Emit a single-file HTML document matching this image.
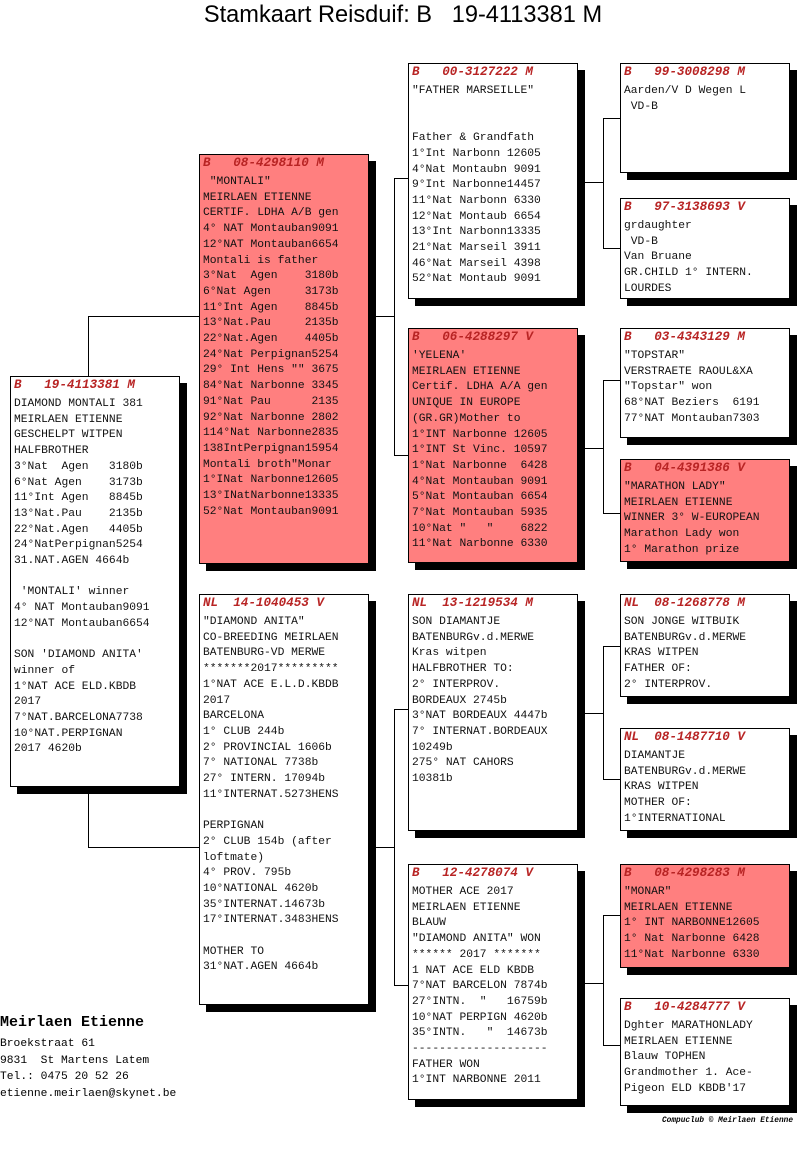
<!DOCTYPE html>
<html><head><meta charset="utf-8"><style>
body{margin:0;background:#fff;width:800px;height:1149px;position:relative;overflow:hidden;font-family:"Liberation Mono",monospace;}
.b{position:absolute;border:1px solid #000;background:#fff;box-shadow:7px 7px 0 #000;box-sizing:border-box;}
.r{background:#ff7f7f;}
.h{position:absolute;left:3px;top:0px;font-weight:bold;font-style:italic;color:#b82424;font-size:12.6px;line-height:16px;white-space:pre;}
.t{position:absolute;left:3px;top:20px;font-size:11.3px;line-height:15.7px;white-space:pre;color:#111;margin:0;font-family:"Liberation Mono",monospace;}
.l{position:absolute;background:#000;}
</style></head><body>
<div style="position:absolute;left:0;width:806px;top:2px;text-align:center;font-family:'Liberation Sans',sans-serif;font-size:23.6px;">Stamkaart Reisduif: B&nbsp;&nbsp;&nbsp;19-4113381 M</div>

<!-- connectors -->
<div class="l" style="left:88px;top:316px;width:1px;height:60px"></div>
<div class="l" style="left:88px;top:316px;width:111px;height:1px"></div>
<div class="l" style="left:88px;top:787px;width:1px;height:61px"></div>
<div class="l" style="left:88px;top:847px;width:111px;height:1px"></div>

<div class="l" style="left:369px;top:316px;width:25px;height:1px"></div>
<div class="l" style="left:394px;top:178px;width:1px;height:278px"></div>
<div class="l" style="left:394px;top:178px;width:14px;height:1px"></div>
<div class="l" style="left:394px;top:455px;width:14px;height:1px"></div>

<div class="l" style="left:369px;top:847px;width:25px;height:1px"></div>
<div class="l" style="left:394px;top:709px;width:1px;height:277px"></div>
<div class="l" style="left:394px;top:709px;width:14px;height:1px"></div>
<div class="l" style="left:394px;top:985px;width:14px;height:1px"></div>

<div class="l" style="left:577px;top:182px;width:26px;height:1px"></div>
<div class="l" style="left:603px;top:118px;width:1px;height:131px"></div>
<div class="l" style="left:603px;top:118px;width:17px;height:1px"></div>
<div class="l" style="left:603px;top:248px;width:17px;height:1px"></div>

<div class="l" style="left:577px;top:448px;width:26px;height:1px"></div>
<div class="l" style="left:603px;top:380px;width:1px;height:134px"></div>
<div class="l" style="left:603px;top:380px;width:17px;height:1px"></div>
<div class="l" style="left:603px;top:513px;width:17px;height:1px"></div>

<div class="l" style="left:577px;top:713px;width:26px;height:1px"></div>
<div class="l" style="left:603px;top:646px;width:1px;height:134px"></div>
<div class="l" style="left:603px;top:646px;width:17px;height:1px"></div>
<div class="l" style="left:603px;top:779px;width:17px;height:1px"></div>

<div class="l" style="left:577px;top:983px;width:26px;height:1px"></div>
<div class="l" style="left:603px;top:915px;width:1px;height:131px"></div>
<div class="l" style="left:603px;top:915px;width:17px;height:1px"></div>
<div class="l" style="left:603px;top:1045px;width:17px;height:1px"></div>

<!-- root -->
<div class="b" style="left:10px;top:376px;width:170px;height:411px"><div class="h">B   19-4113381 M</div><pre class="t">DIAMOND MONTALI 381
MEIRLAEN ETIENNE
GESCHELPT WITPEN
HALFBROTHER
3°Nat  Agen   3180b
6°Nat Agen    3173b
11°Int Agen   8845b
13°Nat.Pau    2135b
22°Nat.Agen   4405b
24°NatPerpignan5254
31.NAT.AGEN 4664b

 'MONTALI' winner
4° NAT Montauban9091
12°NAT Montauban6654

SON 'DIAMOND ANITA'
winner of
1°NAT ACE ELD.KBDB
2017
7°NAT.BARCELONA7738
10°NAT.PERPIGNAN
2017 4620b</pre></div>

<!-- gen2 -->
<div class="b r" style="left:199px;top:154px;width:170px;height:410px"><div class="h">B   08-4298110 M</div><pre class="t"> "MONTALI"
MEIRLAEN ETIENNE
CERTIF. LDHA A/B gen
4° NAT Montauban9091
12°NAT Montauban6654
Montali is father
3°Nat  Agen    3180b
6°Nat Agen     3173b
11°Int Agen    8845b
13°Nat.Pau     2135b
22°Nat.Agen    4405b
24°Nat Perpignan5254
29° Int Hens "" 3675
84°Nat Narbonne 3345
91°Nat Pau      2135
92°Nat Narbonne 2802
114°Nat Narbonne2835
138IntPerpignan15954
Montali broth"Monar
1°INat Narbonne12605
13°INatNarbonne13335
52°Nat Montauban9091</pre></div>

<div class="b" style="left:199px;top:594px;width:170px;height:411px"><div class="h">NL  14-1040453 V</div><pre class="t">"DIAMOND ANITA"
CO-BREEDING MEIRLAEN
BATENBURG-VD MERWE
*******2017*********
1°NAT ACE E.L.D.KBDB
2017
BARCELONA
1° CLUB 244b
2° PROVINCIAL 1606b
7° NATIONAL 7738b
27° INTERN. 17094b
11°INTERNAT.5273HENS

PERPIGNAN
2° CLUB 154b (after
loftmate)
4° PROV. 795b
10°NATIONAL 4620b
35°INTERNAT.14673b
17°INTERNAT.3483HENS

MOTHER TO
31°NAT.AGEN 4664b</pre></div>

<!-- gen3 -->
<div class="b" style="left:408px;top:63px;width:170px;height:236px"><div class="h">B   00-3127222 M</div><pre class="t">"FATHER MARSEILLE"


Father &amp; Grandfath
1°Int Narbonn 12605
4°Nat Montaubn 9091
9°Int Narbonne14457
11°Nat Narbonn 6330
12°Nat Montaub 6654
13°Int Narbonn13335
21°Nat Marseil 3911
46°Nat Marseil 4398
52°Nat Montaub 9091</pre></div>

<div class="b r" style="left:408px;top:328px;width:170px;height:235px"><div class="h">B   06-4288297 V</div><pre class="t">'YELENA'
MEIRLAEN ETIENNE
Certif. LDHA A/A gen
UNIQUE IN EUROPE
(GR.GR)Mother to
1°INT Narbonne 12605
1°INT St Vinc. 10597
1°Nat Narbonne  6428
4°Nat Montauban 9091
5°Nat Montauban 6654
7°Nat Montauban 5935
10°Nat "   "    6822
11°Nat Narbonne 6330</pre></div>

<div class="b" style="left:408px;top:594px;width:170px;height:237px"><div class="h">NL  13-1219534 M</div><pre class="t">SON DIAMANTJE
BATENBURGv.d.MERWE
Kras witpen
HALFBROTHER TO:
2° INTERPROV.
BORDEAUX 2745b
3°NAT BORDEAUX 4447b
7° INTERNAT.BORDEAUX
10249b
275° NAT CAHORS
10381b</pre></div>

<div class="b" style="left:408px;top:864px;width:170px;height:236px"><div class="h">B   12-4278074 V</div><pre class="t">MOTHER ACE 2017
MEIRLAEN ETIENNE
BLAUW
"DIAMOND ANITA" WON
****** 2017 *******
1 NAT ACE ELD KBDB
7°NAT BARCELON 7874b
27°INTN.  "   16759b
10°NAT PERPIGN 4620b
35°INTN.   "  14673b
--------------------
FATHER WON
1°INT NARBONNE 2011</pre></div>

<!-- gen4 -->
<div class="b" style="left:620px;top:63px;width:170px;height:110px"><div class="h">B   99-3008298 M</div><pre class="t">Aarden/V D Wegen L
 VD-B</pre></div>
<div class="b" style="left:620px;top:198px;width:170px;height:101px"><div class="h">B   97-3138693 V</div><pre class="t">grdaughter
 VD-B
Van Bruane
GR.CHILD 1° INTERN.
LOURDES</pre></div>
<div class="b" style="left:620px;top:328px;width:170px;height:110px"><div class="h">B   03-4343129 M</div><pre class="t">"TOPSTAR"
VERSTRAETE RAOUL&amp;XA
"Topstar" won
68°NAT Beziers  6191
77°NAT Montauban7303</pre></div>
<div class="b r" style="left:620px;top:459px;width:170px;height:103px"><div class="h">B   04-4391386 V</div><pre class="t">"MARATHON LADY"
MEIRLAEN ETIENNE
WINNER 3° W-EUROPEAN
Marathon Lady won
1° Marathon prize</pre></div>
<div class="b" style="left:620px;top:594px;width:170px;height:103px"><div class="h">NL  08-1268778 M</div><pre class="t">SON JONGE WITBUIK
BATENBURGv.d.MERWE
KRAS WITPEN
FATHER OF:
2° INTERPROV.</pre></div>
<div class="b" style="left:620px;top:728px;width:170px;height:103px"><div class="h">NL  08-1487710 V</div><pre class="t">DIAMANTJE
BATENBURGv.d.MERWE
KRAS WITPEN
MOTHER OF:
1°INTERNATIONAL</pre></div>
<div class="b r" style="left:620px;top:864px;width:170px;height:104px"><div class="h">B   08-4298283 M</div><pre class="t">"MONAR"
MEIRLAEN ETIENNE
1° INT NARBONNE12605
1° Nat Narbonne 6428
11°Nat Narbonne 6330</pre></div>
<div class="b" style="left:620px;top:998px;width:170px;height:108px"><div class="h">B   10-4284777 V</div><pre class="t">Dghter MARATHONLADY
MEIRLAEN ETIENNE
Blauw TOPHEN
Grandmother 1. Ace-
Pigeon ELD KBDB'17</pre></div>

<!-- footer -->
<div style="position:absolute;left:0;top:1014px;font-weight:bold;font-size:15px;">Meirlaen Etienne</div>
<pre style="position:absolute;left:0;top:1036px;margin:0;font-family:'Liberation Mono',monospace;font-size:11.3px;line-height:16.5px;">Broekstraat 61
9831  St Martens Latem
Tel.: 0475 20 52 26
etienne.meirlaen@skynet.be</pre>
<div style="position:absolute;left:662px;top:1117px;font-size:7.8px;font-weight:bold;font-style:italic;white-space:pre;">Compuclub © Meirlaen Etienne</div>
</body></html>
